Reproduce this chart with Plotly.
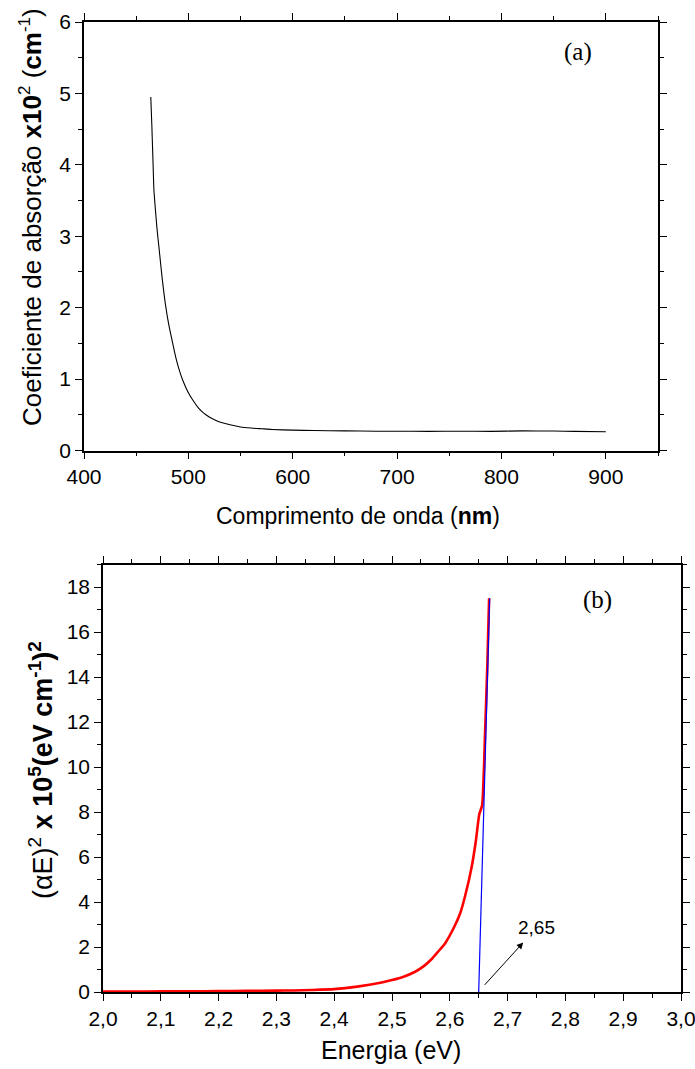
import plotly.graph_objects as go

# ---- Panel (a): absorption coefficient vs wavelength ----
wavelength_nm = [464, 465, 466, 467, 468, 470, 472, 475, 478, 481, 485, 488, 491, 495,
                 500, 505, 510, 515, 520, 525, 530, 540, 550, 560, 570, 580, 600, 620,
                 650, 680, 700, 730, 760, 790, 820, 850, 870, 900]
absorption = [4.95, 4.55, 4.10, 3.65, 3.45, 3.10, 2.82, 2.40, 2.05, 1.78, 1.50, 1.30, 1.14,
              0.97, 0.81, 0.69, 0.59, 0.52, 0.47, 0.43, 0.40, 0.36, 0.33, 0.315, 0.305,
              0.295, 0.285, 0.28, 0.275, 0.27, 0.27, 0.268, 0.27, 0.268, 0.275, 0.272,
              0.268, 0.262]

# ---- Panel (b): Tauc plot ----
energy_ev = [2.00, 2.05, 2.10, 2.15, 2.20, 2.25, 2.30, 2.33, 2.36, 2.40, 2.44, 2.48,
             2.50, 2.52, 2.54, 2.555, 2.57, 2.58, 2.592, 2.608, 2.618, 2.627, 2.638, 2.645,
             2.651, 2.656, 2.661, 2.665, 2.668]
tauc_values = [0.02, 0.02, 0.03, 0.03, 0.04, 0.05, 0.06, 0.07, 0.09, 0.13, 0.24, 0.41,
               0.53, 0.68, 0.90, 1.15, 1.50, 1.80, 2.17, 2.91, 3.50, 4.32, 5.58, 6.70,
               7.9, 8.3, 11.5, 14.6, 17.5]
fit_energy = [2.65, 2.669]
fit_values = [0.0, 17.5]

gap_label = "2,65"
gap_arrow_tail = (2.658, 0.25)
gap_arrow_head = (2.727, 2.2)
gap_text_pos = (2.750, 2.85)

W, H = 695, 1069
FONT = "Liberation Sans, Arial, sans-serif"
SERIF = "Liberation Serif, Times New Roman, serif"

fig = go.Figure()
fig.add_trace(go.Scatter(x=wavelength_nm, y=absorption, mode="lines",
                         line=dict(color="black", width=1.1, shape="spline", smoothing=0.6),
                         xaxis="x", yaxis="y", showlegend=False))
fig.add_trace(go.Scatter(x=energy_ev, y=tauc_values, mode="lines",
                         line=dict(color="#ff0000", width=2.6, shape="spline", smoothing=0.5),
                         xaxis="x2", yaxis="y2", showlegend=False))
fig.add_trace(go.Scatter(x=fit_energy, y=fit_values, mode="lines",
                         line=dict(color="#0000ff", width=1.2), xaxis="x2", yaxis="y2",
                         showlegend=False))

def px_x(p):
    return p / W

def px_y(p):
    return 1 - p / H

def minor(dt):
    return dict(dtick=dt, ticks="outside", ticklen=4, tickcolor="black", tickwidth=1.2)

axis_common = dict(showline=True, linecolor="black", linewidth=1.5, mirror="ticks",
                   ticks="outside", ticklen=7, tickwidth=1.3, tickcolor="black",
                   showgrid=False, zeroline=False, ticklabeloverflow="allow",
                   tickfont=dict(family=FONT, size=21, color="black"))

fig.update_layout(
    width=W, height=H,
    margin=dict(l=0, r=0, t=0, b=0, autoexpand=False),
    paper_bgcolor="white", plot_bgcolor="white",
    separators=",.",
    xaxis=dict(domain=[px_x(84), px_x(658)], anchor="y", range=[400, 950],
               dtick=100, tick0=400, minor=minor(50), **axis_common),
    yaxis=dict(domain=[px_y(450.5), px_y(22)], anchor="x", range=[0, 6], dtick=1,
               minor=minor(0.5), **axis_common),
    xaxis2=dict(domain=[px_x(103), px_x(681)], anchor="y2", range=[2.0, 3.0],
                dtick=0.1, tick0=2.0, tickformat=".1f", minor=minor(0.05), **axis_common),
    yaxis2=dict(domain=[px_y(992), px_y(564.5)], anchor="x2", range=[0, 19], dtick=2,
                minor=minor(1), **axis_common),
)

def paper_text(text, x, y, size, family=FONT, angle=0):
    return dict(text=text, x=px_x(x), y=px_y(y), xref="paper", yref="paper",
                xanchor="center", yanchor="middle", showarrow=False, textangle=angle,
                font=dict(family=family, size=size, color="black"))

def sup(s, size=19):
    return f"<sup><span style='font-size:{size}px'>{s}</span></sup>"

annotations = [
    paper_text("(a)", 578, 52, 25, SERIF),
    paper_text("(b)", 597, 600, 25, SERIF),
    paper_text("Coeficiente de absorção <b>x10</b>" + sup("2", 17) + " (<b>cm</b>" + sup("-1", 17) + ")",
               31, 217, 26, angle=-90),
    paper_text("Comprimento de onda (<b>nm</b>)", 358, 516, 23),
    paper_text("(αE)" + sup("2") + "<b> x 10</b>" + sup("<b>5</b>") + "<b>(eV cm</b>"
               + sup("<b>-1</b>") + "<b>)</b>" + sup("<b>2</b>"),
               41, 770, 27, angle=-90),
    paper_text("Energia (eV)", 391, 1050, 25),
    dict(text=gap_label, x=gap_text_pos[0], y=gap_text_pos[1], xref="x2", yref="y2",
         xanchor="center", yanchor="middle",
         showarrow=False, font=dict(family=FONT, size=19, color="black")),
    dict(text="", x=gap_arrow_head[0], y=gap_arrow_head[1], xref="x2", yref="y2",
         ax=gap_arrow_tail[0], ay=gap_arrow_tail[1], axref="x2", ayref="y2",
         showarrow=True, arrowhead=2, arrowsize=1.3, arrowwidth=1, arrowcolor="black"),
]
fig.update_layout(annotations=annotations)

fig.write_html("out.html")
